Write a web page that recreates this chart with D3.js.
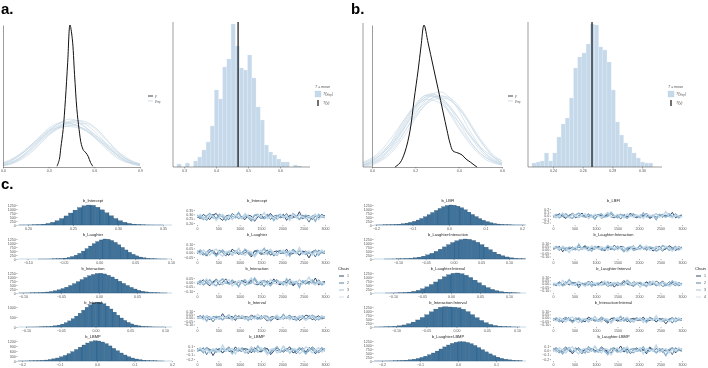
<!DOCTYPE html>
<html>
<head>
<meta charset="utf-8">
<script src="https://cdn.jsdelivr.net/npm/d3@7"></script>
<style>
  body { margin: 0; background: #fff; }
  svg { will-change: transform; }
  svg text { font-family: "Liberation Sans", Arial, sans-serif; }
</style>
</head>
<body>
<script>
// ---------- panel a : density overlay + stat histogram ----------
const densGridA = [0, 0.05, 0.1, 0.15, 0.2, 0.25, 0.3, 0.35, 0.4, 0.45, 0.5, 0.55, 0.6, 0.65, 0.7, 0.75, 0.8, 0.85, 0.9]
const yrepA = [
  [0.2,0.4,0.7,1.1,1.6,2.1,2.5,2.8,3.0,3.0,2.9,2.6,2.2,1.7,1.2,0.8,0.45,0.25,0.15],
  [0.1,0.25,0.5,0.9,1.4,1.9,2.4,2.8,3.1,3.2,3.0,2.6,2.0,1.5,1.0,0.6,0.35,0.2,0.1],
  [0.3,0.5,0.8,1.2,1.6,2.0,2.4,2.6,2.7,2.7,2.6,2.4,2.1,1.7,1.3,0.9,0.6,0.35,0.2],
  [0.15,0.3,0.55,0.95,1.4,1.9,2.4,2.7,2.9,2.9,2.7,2.4,2.0,1.6,1.2,0.8,0.5,0.3,0.15],
  [0.1,0.2,0.4,0.7,1.1,1.6,2.1,2.5,2.8,3.0,3.1,3.0,2.7,2.2,1.6,1.0,0.6,0.3,0.15],
  [0.25,0.45,0.75,1.1,1.5,1.9,2.3,2.6,2.8,2.8,2.7,2.5,2.2,1.8,1.4,1.0,0.6,0.35,0.2],
  [0.15,0.3,0.55,0.9,1.3,1.8,2.2,2.5,2.7,2.8,2.9,2.9,2.6,2.1,1.6,1.1,0.7,0.4,0.2],
  [0.2,0.4,0.7,1.1,1.6,2.1,2.6,2.9,3.0,2.9,2.7,2.4,2.0,1.6,1.1,0.7,0.4,0.25,0.1],
  [0.1,0.2,0.45,0.8,1.2,1.7,2.2,2.6,2.9,3.1,3.1,2.8,2.4,1.9,1.3,0.8,0.45,0.2,0.1]
]
const yObsA_x = [0.355,0.37,0.38,0.395,0.41,0.425,0.44,0.455,0.47,0.485,0.50,0.515,0.53,0.545,0.56,0.575,0.59]
const yObsA_d = [0.05,0.5,1.3,2.5,4.5,7.0,9.5,8.6,6.2,3.9,2.5,1.5,1.1,0.95,0.7,0.3,0.05]
const densTicksA = [0.0, 0.3, 0.6, 0.9]
const statA_start = 0.278, statA_width = 0.013
const statA_counts = [3,0,4,0,6,10,17,25,41,77,68,100,108,143,121,99,97,112,89,60,47,22,15,12,8,5,5,0,2,1]
const statA_Ty = 0.469
const statTicksA = [0.3, 0.4, 0.5, 0.6]

// ---------- panel b ----------
const densGridB = [-0.04, 0, 0.04, 0.08, 0.12, 0.16, 0.2, 0.24, 0.28, 0.32, 0.36, 0.4, 0.44, 0.48, 0.52, 0.56, 0.6]
const yrepB = [
  [0.1,0.25,0.5,0.9,1.5,2.2,2.9,3.4,3.6,3.4,2.9,2.2,1.5,0.9,0.5,0.25,0.1],
  [0.2,0.4,0.7,1.1,1.7,2.4,3.0,3.4,3.5,3.3,2.9,2.4,1.8,1.2,0.7,0.4,0.2],
  [0.05,0.15,0.35,0.7,1.2,1.9,2.6,3.2,3.6,3.7,3.4,2.8,2.0,1.3,0.7,0.35,0.15],
  [0.15,0.3,0.6,1.0,1.6,2.3,3.0,3.5,3.6,3.3,2.7,2.0,1.4,0.9,0.5,0.3,0.15],
  [0.1,0.2,0.4,0.8,1.3,1.9,2.5,3.0,3.3,3.4,3.3,2.9,2.3,1.6,1.0,0.5,0.2],
  [0.25,0.45,0.8,1.3,1.9,2.5,3.0,3.3,3.3,3.1,2.7,2.2,1.7,1.2,0.8,0.5,0.3],
  [0.05,0.1,0.3,0.6,1.1,1.7,2.4,3.0,3.4,3.5,3.3,2.9,2.3,1.6,1.0,0.5,0.2],
  [0.1,0.2,0.45,0.85,1.4,2.1,2.8,3.3,3.5,3.4,3.0,2.4,1.7,1.1,0.6,0.3,0.1],
  [0.2,0.35,0.6,1.0,1.5,2.1,2.7,3.1,3.4,3.5,3.4,3.0,2.4,1.7,1.1,0.6,0.3],
  [0.1,0.3,0.6,1.1,1.8,2.5,3.1,3.5,3.5,3.2,2.6,1.9,1.3,0.8,0.4,0.2,0.1]
]
const yObsB_x = [0.106,0.129,0.152,0.176,0.194,0.213,0.226,0.240,0.259,0.282,0.305,0.328,0.346,0.360,0.374,0.397,0.416,0.434,0.453,0.471,0.485]
const yObsB_d = [0,0.2,0.74,1.82,3.3,4.78,5.92,7.0,6.11,4.98,3.85,2.71,1.82,1.18,0.79,0.69,0.59,0.39,0.25,0.1,0]
const densTicksB = [0.0, 0.2, 0.4, 0.6]
const statB_start = 0.2258, statB_width = 0.00281
const statB_counts = [4,5,6,14,6,14,30,43,49,69,99,110,114,123,143,142,120,117,105,77,45,32,24,20,14,9,5,4,4,0]
const statB_Ty = 0.2663
const statTicksB = [0.24, 0.26, 0.28, 0.30]

// ---------- panel c : posterior histograms ----------
const paramsLeft = ["b_Intercept", "b_Laughter", "b_Interaction", "b_Interval", "b_LBMP"]
const paramsRight = ["b_LBFI", "b_Laughter:Interaction", "b_Laughter:Interval", "b_Interaction:Interval", "b_Laughter:LBMP"]

const postStartLeft = [0.180, -0.090, -0.120, -0.110, -0.240]
const postWidthLeft = [0.005, 0.005, 0.005, 0.005, 0.01]
const postCountsLeft = [
  [0,1,2,3,6,13,28,54,98,168,268,402,566,748,930,1090,1200,1248,1230,1110,945,760,575,405,268,170,100,56,30,14,6,3,1,1,0,0],
  [0,1,1,2,4,8,16,30,55,95,155,240,355,495,650,810,960,1090,1190,1250,1235,1160,1040,890,725,565,420,295,195,122,72,40,21,10,5,2,1,0],
  [0,1,1,2,3,5,9,15,25,40,62,95,140,200,275,365,470,585,710,840,970,1080,1160,1220,1235,1190,1110,1000,870,735,600,470,350,250,170,110,68,40,22,12,6,3],
  [0,0,1,1,2,4,7,13,22,37,60,95,145,215,305,415,545,690,840,985,1110,1200,1245,1230,1160,1045,900,745,590,450,330,230,152,97,58,33,18,9,4,2,1,1,0,0],
  [0,1,1,2,3,5,9,15,24,38,58,88,128,180,250,335,440,560,690,830,960,1080,1170,1215,1200,1140,1040,905,760,615,480,360,260,180,120,76,46,27,15,8,4,2]
]
const postStartRight = [-0.230, -0.125, -0.1125, -0.1425, -0.220]
const postWidthRight = [0.01, 0.0075, 0.0075, 0.0075, 0.01]
const postCountsRight = [
  [1,1,2,3,5,9,14,22,35,54,80,118,166,230,310,408,520,645,778,912,1035,1143,1218,1250,1234,1175,1078,950,805,660,526,402,295,209,143,94,60,36,21,12,6,3,2,1],
  [1,2,4,8,15,27,46,75,118,178,258,358,478,612,755,898,1030,1140,1215,1250,1230,1160,1045,900,740,580,432,305,204,128,75,41,21,10],
  [1,3,7,15,30,58,102,168,262,385,530,690,855,1010,1140,1230,1250,1205,1110,970,805,635,475,338,228,146,88,50,27,13,6],
  [1,2,5,11,22,42,76,128,205,308,440,595,765,950,1120,1230,1265,1250,1235,1200,1110,960,770,580,410,270,165,95,50,25,12,5,2],
  [1,1,2,4,7,12,20,32,50,76,112,160,222,300,393,500,620,750,880,1000,1100,1170,1205,1200,1160,1080,970,840,705,570,445,335,242,168,112,72,44,26,15,8,4,2]
]
const postXTicksLeft = [[0.20,0.25,0.30,0.35],[-0.10,-0.05,0.00,0.05,0.10],[-0.10,-0.05,0.00,0.05],[-0.10,-0.05,0.00,0.05,0.10],[-0.2,-0.1,0.0,0.1,0.2]]
const postXTicksRight = [[-0.2,-0.1,0.0,0.1,0.2],[-0.10,-0.05,0.00,0.05,0.10],[-0.10,-0.05,0.00,0.05,0.10],[-0.10,-0.05,0.00,0.05,0.10],[-0.2,-0.1,0.0,0.1]]
const postYTicksLeft = [[0,250,500,750,1000,1250],[0,250,500,750,1000,1250],[0,250,500,750,1000,1250],[0,500,1000],[0,300,600,900,1200]]
const postYTicksRight = [[0,250,500,750,1000,1250],[0,250,500,750,1000,1250],[0,250,500,750,1000,1250],[0,250,500,750,1000,1250],[0,250,500,750,1000,1250]]

// ---------- panel c : trace plots (every 75th draw, 4 chains) ----------
const chainIds = ["1", "2", "3", "4"]
const traceIter = d3.range(0, 3001, 75)
const traceTicksX = [0, 500, 1000, 1500, 2000, 2500, 3000]
const traceYTicksLeft = [[0.20,0.25,0.30,0.35],[-0.05,0.00,0.05,0.10],[-0.10,-0.05,0.00,0.05],[-0.10,-0.05,0.00,0.05,0.10],[-0.2,-0.1,0.0,0.1]]
const traceYTicksRight = [[-0.2,-0.1,0.0,0.1,0.2],[-0.10,-0.05,0.00,0.05,0.10],[-0.10,-0.05,0.00,0.05,0.10],[-0.10,-0.05,0.00,0.05,0.10],[-0.2,-0.1,0.0,0.1]]

const traceLeft = [
  [ // b_Intercept
    [0.28,0.25,0.30,0.27,0.24,0.29,0.31,0.26,0.23,0.28,0.29,0.25,0.27,0.32,0.26,0.24,0.29,0.28,0.22,0.27,0.30,0.25,0.28,0.31,0.26,0.25,0.27,0.30,0.23,0.29,0.28,0.26,0.33,0.25,0.27,0.29,0.24,0.28,0.26,0.30,0.27],
    [0.26,0.29,0.27,0.23,0.28,0.30,0.25,0.27,0.29,0.26,0.24,0.31,0.28,0.25,0.27,0.30,0.26,0.22,0.29,0.28,0.25,0.27,0.30,0.24,0.28,0.29,0.26,0.27,0.31,0.25,0.26,0.28,0.24,0.29,0.27,0.21,0.28,0.30,0.26,0.27,0.29],
    [0.29,0.27,0.24,0.28,0.31,0.26,0.25,0.30,0.27,0.23,0.29,0.28,0.26,0.32,0.25,0.27,0.28,0.24,0.29,0.30,0.26,0.25,0.27,0.29,0.23,0.28,0.30,0.26,0.27,0.25,0.31,0.28,0.24,0.27,0.29,0.26,0.28,0.22,0.30,0.27,0.26],
    [0.27,0.30,0.26,0.25,0.29,0.28,0.23,0.27,0.30,0.26,0.28,0.24,0.29,0.27,0.25,0.31,0.28,0.26,0.24,0.29,0.27,0.32,0.25,0.28,0.26,0.24,0.29,0.27,0.28,0.23,0.30,0.26,0.29,0.27,0.25,0.28,0.26,0.30,0.24,0.28,0.27]
  ],
  [ // b_Laughter
    [-0.01,0.02,0,-0.04,0.01,0.03,-0.02,0,0.02,-0.01,-0.03,0.04,0.01,-0.02,0,0.03,-0.01,-0.05,0.02,0.01,-0.02,0,0.03,-0.03,0.01,0.02,-0.01,0,0.04,-0.02,-0.01,0.01,-0.03,0.02,0,-0.06,0.01,0.03,-0.01,0,0.02],
    [0.02,0,-0.03,0.01,0.04,-0.01,-0.02,0.03,0,-0.04,0.02,0.01,-0.01,0.05,-0.02,0,0.01,-0.03,0.02,0.03,-0.01,-0.02,0,0.02,-0.04,0.01,0.03,-0.01,0,-0.02,0.04,0.01,-0.03,0,0.02,-0.01,0.01,-0.05,0.03,0,-0.01],
    [0,0.03,-0.01,-0.02,0.02,0.01,-0.04,0,0.03,-0.01,0.01,-0.03,0.02,0,-0.02,0.04,0.01,-0.01,-0.03,0.02,0,0.05,-0.02,0.01,-0.01,-0.03,0.02,0,0.01,-0.04,0.03,-0.01,0.02,0,-0.02,0.01,-0.01,0.03,-0.03,0.01,0],
    [0.01,-0.02,0.03,0,-0.03,0.02,0.04,-0.01,-0.04,0.01,0.02,-0.02,0,0.05,-0.01,-0.03,0.02,0.01,-0.05,0,0.03,-0.02,0.01,0.04,-0.01,-0.02,0,0.03,-0.04,0.02,0.01,-0.01,0.06,-0.02,0,0.02,-0.03,0.01,-0.01,0.03,0]
  ],
  [ // b_Interaction
    [-0.02,0,0.03,-0.01,-0.04,0.01,0.02,-0.03,0,0.04,-0.02,-0.01,0.01,-0.05,0.02,0,-0.01,0.03,-0.02,-0.03,0.01,0.02,0,-0.02,0.04,-0.01,-0.03,0.01,0,0.02,-0.04,-0.01,0.03,0,-0.02,0.01,-0.01,0.05,-0.03,0,0.01],
    [0,-0.03,0.01,0.02,-0.02,-0.01,0.04,0,-0.03,0.01,-0.01,0.03,-0.02,0,0.02,-0.04,-0.01,0.01,0.03,-0.02,0,-0.05,0.02,-0.01,0.01,0.03,-0.02,0,-0.01,0.04,-0.03,0.01,-0.02,0,0.02,-0.01,0.01,-0.03,0.03,-0.01,0],
    [-0.01,0.02,-0.03,0,0.03,-0.02,-0.04,0.01,0.04,-0.01,-0.02,0.02,0,-0.05,0.01,0.03,-0.02,-0.01,0.05,0,-0.03,0.02,-0.01,-0.04,0.01,0.02,0,-0.03,0.04,-0.02,-0.01,0.01,-0.06,0.02,0,-0.02,0.03,-0.01,0.01,-0.03,0],
    [0.01,-0.02,0,0.04,-0.01,-0.03,0.02,0,-0.02,0.01,0.03,-0.04,-0.01,0.02,0,-0.03,0.01,0.05,-0.02,-0.01,0.02,0,-0.03,0.03,-0.01,-0.02,0.01,0,-0.04,0.02,0.01,-0.01,0.03,-0.02,0,0.06,-0.01,-0.03,0.01,0,-0.02]
  ],
  [ // b_Interval
    [0,0.03,-0.01,0.01,-0.03,0.02,0,-0.02,0.06,-0.01,0.01,0.02,-0.04,0.03,0,-0.02,-0.01,0.04,0.01,-0.02,0.03,0,-0.05,0.01,0.02,-0.03,-0.01,0.05,0,-0.02,0.02,0.01,-0.04,-0.01,0.04,0.02,-0.03,0,0.03,-0.02,0.01],
    [0.02,0,-0.01,0.03,0.01,-0.06,0,0.02,-0.03,0.01,-0.01,-0.02,0.04,0,-0.01,0.02,0.01,-0.03,0.03,0,-0.02,0.01,0.02,-0.05,-0.01,0.03,0,-0.02,0.01,0.04,-0.03,-0.01,0.02,0,-0.02,0.03,0.01,-0.04,0,0.02,-0.01],
    [-0.01,0,0.03,-0.05,0.01,-0.01,0.02,0,-0.03,0.01,0.04,-0.02,0,-0.01,0.03,0.01,-0.04,0.02,0,-0.02,-0.01,0.03,0.02,-0.03,0.01,0,-0.02,0.05,-0.01,0.01,0.02,-0.04,0,0.03,-0.02,-0.01,0.04,0.01,-0.03,0,0.02],
    [0,0.01,-0.03,0.03,-0.01,0.01,-0.02,0,0.02,-0.01,0.03,-0.04,0.01,0,0.02,-0.03,-0.01,0.01,-0.02,0.05,0,0.02,-0.03,-0.01,0.01,0.04,-0.02,0,0.02,-0.03,0.01,-0.01,0.03,0,-0.04,0.01,0.02,-0.02,-0.01,0.03,0]
  ],
  [ // b_LBMP
    [0.04,0,-0.02,0.06,0.02,-0.12,0,0.04,-0.06,0.02,-0.02,-0.04,0.08,0,-0.02,0.04,0.02,-0.06,0.06,0,-0.04,0.02,0.04,-0.1,-0.02,0.06,0,-0.04,0.02,0.08,-0.06,-0.02,0.04,0,-0.04,0.06,0.02,-0.08,0,0.04,-0.02],
    [-0.02,0,0.06,-0.1,0.02,-0.02,0.04,0,-0.06,0.02,0.08,-0.04,0,-0.02,0.06,0.02,-0.08,0.04,0,-0.04,-0.02,0.06,0.04,-0.06,0.02,0,-0.04,0.1,-0.02,0.02,0.04,-0.08,0,0.06,-0.04,-0.02,0.08,0.02,-0.06,0,0.04],
    [0,0.02,-0.06,0.06,-0.02,0.02,-0.04,0,0.04,-0.02,0.06,-0.08,0.02,0,0.04,-0.06,-0.02,0.02,-0.04,0.1,0,0.04,-0.06,-0.02,0.02,0.08,-0.04,0,0.04,-0.06,0.02,-0.02,0.06,0,-0.08,0.02,0.04,-0.04,-0.02,0.06,0],
    [0,0.06,-0.02,0.02,-0.06,0.04,0,-0.04,0.12,-0.02,0.02,0.04,-0.08,0.06,0,-0.04,-0.02,0.08,0.02,-0.04,0.06,0,-0.1,0.02,0.04,-0.06,-0.02,0.1,0,-0.04,0.04,0.02,-0.08,-0.02,0.08,0.04,-0.06,0,0.06,-0.04,0.02]
  ]
]
const traceRight = [
  [ // b_LBFI
    [-0.04,0,0.06,-0.02,-0.08,0.02,0.04,-0.06,0,0.08,-0.04,-0.02,0.02,-0.1,0.04,0,-0.02,0.06,-0.04,-0.06,0.02,0.04,0,-0.04,0.08,-0.02,-0.06,0.02,0,0.04,-0.08,-0.02,0.06,0,-0.04,0.02,-0.02,0.1,-0.06,0,0.02],
    [0,-0.06,0.02,0.04,-0.04,-0.02,0.08,0,-0.06,0.02,-0.02,0.06,-0.04,0,0.04,-0.08,-0.02,0.02,0.06,-0.04,0,-0.1,0.04,-0.02,0.02,0.06,-0.04,0,-0.02,0.08,-0.06,0.02,-0.04,0,0.04,-0.02,0.02,-0.06,0.06,-0.02,0],
    [-0.02,0.04,-0.06,0,0.06,-0.04,-0.08,0.02,0.08,-0.02,-0.04,0.04,0,-0.1,0.02,0.06,-0.04,-0.02,0.1,0,-0.06,0.04,-0.02,-0.08,0.02,0.04,0,-0.06,0.08,-0.04,-0.02,0.02,-0.12,0.04,0,-0.04,0.06,-0.02,0.02,-0.06,0],
    [0.02,-0.04,0,0.08,-0.02,-0.06,0.04,0,-0.04,0.02,0.06,-0.08,-0.02,0.04,0,-0.06,0.02,0.1,-0.04,-0.02,0.04,0,-0.06,0.06,-0.02,-0.04,0.02,0,-0.08,0.04,0.02,-0.02,0.06,-0.04,0,0.12,-0.02,-0.06,0.02,0,-0.04]
  ],
  [ // b_Laughter:Interaction
    [0.01,0.02,0.05,-0.03,0.03,0.01,0.04,0.02,-0.01,0.03,0.06,0,0.02,0.01,0.05,0.03,-0.02,0.04,0.02,0,0.01,0.05,0.04,-0.01,0.03,0.02,0,0.07,0.01,0.03,0.04,-0.02,0.02,0.05,0,0.01,0.06,0.03,-0.01,0.02,0.04],
    [0.02,0.03,-0.01,0.05,0.01,0.03,0,0.02,0.04,0.01,0.05,-0.02,0.03,0.02,0.04,-0.01,0.01,0.03,0,0.07,0.02,0.04,-0.01,0.01,0.03,0.06,0,0.02,0.04,-0.01,0.03,0.01,0.05,0.02,-0.02,0.03,0.04,0,0.01,0.05,0.02],
    [0.02,0.05,0.01,0.03,-0.01,0.04,0.02,0,0.08,0.01,0.03,0.04,-0.02,0.05,0.02,0,0.01,0.06,0.03,0,0.05,0.02,-0.03,0.03,0.04,-0.01,0.01,0.07,0.02,0,0.04,0.03,-0.02,0.01,0.06,0.04,-0.01,0.02,0.05,0,0.03],
    [0.04,0.02,0.01,0.05,0.03,-0.04,0.02,0.04,-0.01,0.03,0.01,0,0.06,0.02,0.01,0.04,0.03,-0.01,0.05,0.02,0,0.03,0.04,-0.03,0.01,0.05,0.02,0,0.03,0.06,-0.01,0.01,0.04,0.02,0,0.05,0.03,-0.02,0.02,0.04,0.01]
  ],
  [ // b_Laughter:Interval
    [0,-0.01,0.03,-0.03,0.01,-0.01,0.02,0,-0.02,0.01,-0.03,0.04,-0.01,0,-0.02,0.03,0.01,-0.01,0.02,-0.05,0,-0.02,0.03,0.01,-0.01,-0.04,0.02,0,-0.02,0.03,-0.01,0.01,-0.03,0,0.04,-0.01,-0.02,0.02,0.01,-0.03,0],
    [0,-0.03,0.01,-0.01,0.03,-0.02,0,0.02,-0.06,0.01,-0.01,-0.02,0.04,-0.03,0,0.02,0.01,-0.04,-0.01,0.02,-0.03,0,0.05,-0.01,-0.02,0.03,0.01,-0.05,0,0.02,-0.02,-0.01,0.04,0.01,-0.04,-0.02,0.03,0,-0.03,0.02,-0.01],
    [-0.02,0,0.01,-0.03,-0.01,0.06,0,-0.02,0.03,-0.01,0.01,0.02,-0.04,0,0.01,-0.02,-0.01,0.03,-0.03,0,0.02,-0.01,-0.02,0.05,0.01,-0.03,0,0.02,-0.01,-0.04,0.03,0.01,-0.02,0,0.02,-0.03,-0.01,0.04,0,-0.02,0.01],
    [0.01,0,-0.03,0.05,-0.01,0.01,-0.02,0,0.03,-0.01,-0.04,0.02,0,0.01,-0.03,-0.01,0.04,-0.02,0,0.02,0.01,-0.03,-0.02,0.03,-0.01,0,0.02,-0.05,0.01,-0.01,-0.02,0.04,0,-0.03,0.02,0.01,-0.04,-0.01,0.03,0,-0.02]
  ],
  [ // b_Interaction:Interval
    [-0.04,-0.01,-0.03,-0.07,-0.02,0,-0.05,-0.03,-0.01,-0.04,-0.06,0.01,-0.02,-0.05,-0.03,0,-0.04,-0.08,-0.01,-0.02,-0.05,-0.03,0,-0.06,-0.02,-0.01,-0.04,-0.03,0.01,-0.05,-0.04,-0.02,-0.06,-0.01,-0.03,-0.09,-0.02,0,-0.04,-0.03,-0.01],
    [-0.01,-0.03,-0.06,-0.02,0.01,-0.04,-0.05,0,-0.03,-0.07,-0.01,-0.02,-0.04,0.02,-0.05,-0.03,-0.02,-0.06,-0.01,0,-0.04,-0.05,-0.03,-0.01,-0.07,-0.02,0,-0.04,-0.03,-0.05,0.01,-0.02,-0.06,-0.03,-0.01,-0.04,-0.02,-0.08,0,-0.03,-0.04],
    [-0.03,0,-0.04,-0.05,-0.01,-0.02,-0.07,-0.03,0,-0.04,-0.02,-0.06,-0.01,-0.03,-0.05,0.01,-0.02,-0.04,-0.06,-0.01,-0.03,0.02,-0.05,-0.02,-0.04,-0.06,-0.01,-0.03,-0.02,-0.07,0,-0.04,-0.01,-0.03,-0.05,-0.02,-0.04,0,-0.06,-0.02,-0.03],
    [-0.02,-0.05,0,-0.03,-0.06,-0.01,0.01,-0.04,-0.07,-0.02,-0.01,-0.05,-0.03,0.02,-0.04,-0.06,-0.01,-0.02,-0.08,-0.03,0,-0.05,-0.02,0.01,-0.04,-0.05,-0.03,0,-0.07,-0.01,-0.02,-0.04,0.03,-0.05,-0.03,-0.01,-0.06,-0.02,-0.04,0,-0.03]
  ],
  [ // b_Laughter:LBMP
    [0,0.06,-0.02,-0.04,0.04,0.02,-0.08,0,0.06,-0.02,0.02,-0.06,0.04,0,-0.04,0.08,0.02,-0.02,-0.06,0.04,0,0.1,-0.04,0.02,-0.02,-0.06,0.04,0,0.02,-0.08,0.06,-0.02,0.04,0,-0.04,0.02,-0.02,0.06,-0.06,0.02,0],
    [0.04,0,-0.06,0.02,0.08,-0.02,-0.04,0.06,0,-0.08,0.04,0.02,-0.02,0.1,-0.04,0,0.02,-0.06,0.04,0.06,-0.02,-0.04,0,0.04,-0.08,0.02,0.06,-0.02,0,-0.04,0.08,0.02,-0.06,0,0.04,-0.02,0.02,-0.1,0.06,0,-0.02],
    [-0.02,0.04,0,-0.08,0.02,0.06,-0.04,0,0.04,-0.02,-0.06,0.08,0.02,-0.04,0,0.06,-0.02,-0.1,0.04,0.02,-0.04,0,0.06,-0.06,0.02,0.04,-0.02,0,0.08,-0.04,-0.02,0.02,-0.06,0.04,0,-0.12,0.02,0.06,-0.02,0,0.04],
    [0.02,-0.04,0.06,0,-0.06,0.04,0.08,-0.02,-0.08,0.02,0.04,-0.04,0,0.1,-0.02,-0.06,0.04,0.02,-0.1,0,0.06,-0.04,0.02,0.08,-0.02,-0.04,0,0.06,-0.08,0.04,0.02,-0.02,0.12,-0.04,0,0.04,-0.06,0.02,-0.02,0.06,0]
  ]
]

// ---------- layout & styles ----------
const svgWidth = 708, svgHeight = 368
const axisCol = "#3a3a3a", textCol = "#555555"
const chainColors = ["#011f4b", "#2f5f85", "#8db4cf", "#c3d9e9"]
const chainWidths = [0.8, 0.8, 1.4, 1.4]
const rowZero = [225, 259, 293, 327, 361]
const cols = [
  { names: paramsLeft, start: postStartLeft, width: postWidthLeft, counts: postCountsLeft,
    xTicks: postXTicksLeft, yTicks: postYTicksLeft, traces: traceLeft, tYTicks: traceYTicksLeft,
    hx: [18, 172], tx: [197, 325], legX: 338,
    hDom: [[0.1889,0.36],[-0.1135,0.1014],[-0.1066,0.096],[-0.1115,0.11],[-0.2107,0.2]],
    tDom: [[0.1885,0.3846],[-0.0615,0.1346],[-0.1115,0.0846],[-0.122,0.1296],[-0.223,0.169]] },
  { names: paramsRight, start: postStartRight, width: postWidthRight, counts: postCountsRight,
    xTicks: postXTicksRight, yTicks: postYTicksRight, traces: traceRight, tYTicks: traceYTicksRight,
    hx: [374, 526], tx: [553, 682], legX: 695,
    hDom: [[-0.2055,0.211],[-0.1432,0.1306],[-0.1328,0.1293],[-0.1364,0.1149],[-0.221,0.179]],
    tDom: [[-0.2444,0.259],[-0.122,0.1296],[-0.122,0.1296],[-0.122,0.1296],[-0.223,0.169]] }
]

const svg = d3.select("body").append("svg")
  .attr("width", svgWidth)
  .attr("height", svgHeight)

function styleAxis(g, fs) {
  g.attr("font-size", fs).attr("font-family", null)
  g.select(".domain").attr("stroke", axisCol).attr("stroke-width", 0.5)
  g.selectAll(".tick line").attr("stroke", axisCol).attr("stroke-width", 0.4)
  g.selectAll(".tick text").attr("fill", textCol)
}

function fmtFor(ticks) {
  const step = Math.abs(ticks[1] - ticks[0])
  return step >= 0.1 - 1e-9 ? d3.format(".1f") : d3.format(".2f")
}

// panel letters
svg.append("text").attr("x", 1).attr("y", 14).text("a.")
  .attr("font-family", "Liberation Serif").attr("font-weight", "bold").attr("font-size", 15)
svg.append("text").attr("x", 351).attr("y", 14).text("b.")
  .attr("font-family", "Liberation Serif").attr("font-weight", "bold").attr("font-size", 15)
svg.append("text").attr("x", 1).attr("y", 189).text("c.")
  .attr("font-family", "Liberation Serif").attr("font-weight", "bold").attr("font-size", 15)

// ---------- density overlay ----------
function densityPanel(o) {
  const x = d3.scaleLinear().domain(o.xDom).range(o.xRange)
  const y = d3.scaleLinear().domain([0, o.yMax]).range([167, 25])
  const g = svg.append("g")
  const line = d3.line().x(d => x(d[0])).y(d => y(d[1])).curve(d3.curveCatmullRom)

  o.yrep.forEach(curve => {
    g.append("path").datum(curve.map((v, i) => [o.grid[i], v]))
      .attr("d", line).attr("fill", "none")
      .attr("stroke", "#c3d5e3").attr("stroke-width", 0.6)
  })
  g.append("path").datum(o.obsX.map((v, i) => [v, o.obsD[i]]))
    .attr("d", line).attr("fill", "none")
    .attr("stroke", "#111").attr("stroke-width", 1)

  const xa = svg.append("g").attr("transform", "translate(0,167)")
    .call(d3.axisBottom(x).tickValues(o.ticks).tickFormat(d3.format(".1f"))
      .tickSize(1.5).tickPadding(1).tickSizeOuter(0))
  styleAxis(xa, 3.6)
  const ya = svg.append("g").attr("transform", `translate(${o.xRange[0]},0)`)
    .call(d3.axisLeft(y).tickValues([]).tickSizeOuter(0))
  styleAxis(ya, 3.6)

  // legend
  const lg = svg.append("g").attr("transform", `translate(${o.legX},96)`)
  lg.append("line").attr("x1", 0).attr("x2", 5).attr("y1", 0).attr("y2", 0)
    .attr("stroke", "#111").attr("stroke-width", 0.8)
  lg.append("text").attr("x", 7).attr("y", 1.2).attr("font-size", 3.6).attr("font-style", "italic")
    .attr("fill", textCol).text("y")
  lg.append("line").attr("x1", 0).attr("x2", 5).attr("y1", 5).attr("y2", 5)
    .attr("stroke", "#c3d5e3").attr("stroke-width", 0.8)
  const t = lg.append("text").attr("x", 7).attr("y", 6.2).attr("font-size", 3.6)
    .attr("font-style", "italic").attr("fill", textCol)
  t.append("tspan").text("y")
  t.append("tspan").attr("font-size", 2.6).attr("dy", 0.8).text("rep")
}

densityPanel({ xDom: [0, 0.9], xRange: [3, 140], yMax: 9.5, grid: densGridA, yrep: yrepA,
  obsX: yObsA_x, obsD: yObsA_d, ticks: densTicksA, legX: 148 })
densityPanel({ xDom: [0, 0.6], xRange: [372, 502], yMax: 7.0, grid: densGridB, yrep: yrepB,
  obsX: yObsB_x, obsD: yObsB_d, ticks: densTicksB, legX: 508 })
// left axis of density b starts a little before 0.0
svg.append("line").attr("x1", 363).attr("x2", 363).attr("y1", 23).attr("y2", 167)
  .attr("stroke", axisCol).attr("stroke-width", 0.5)
svg.append("line").attr("x1", 363).attr("x2", 372).attr("y1", 167).attr("y2", 167)
  .attr("stroke", axisCol).attr("stroke-width", 0.5)

// ---------- test statistic histogram ----------
function statPanel(o) {
  const x = d3.scaleLinear().domain(o.tickDom).range(o.tickPx)
  const y = d3.scaleLinear().domain([0, d3.max(o.counts)]).range([167, 24])
  const g = svg.append("g")
  g.selectAll("rect").data(o.counts).enter().append("rect")
    .attr("x", (d, i) => x(o.start + i * o.width))
    .attr("width", (d, i) => x(o.start + (i + 1) * o.width) - x(o.start + i * o.width))
    .attr("y", d => y(d))
    .attr("height", d => 167 - y(d))
    .attr("fill", "#c5d9ea").attr("stroke", "#e2ecf4").attr("stroke-width", 0.3)
  g.append("line").attr("x1", x(o.Ty)).attr("x2", x(o.Ty)).attr("y1", 167).attr("y2", 22)
    .attr("stroke", "#111").attr("stroke-width", 1.2)

  const xa = svg.append("g").attr("transform", "translate(0,167)")
    .call(d3.axisBottom(x).tickValues(o.ticks).tickFormat(o.fmt)
      .tickSize(1.5).tickPadding(1).tickSizeOuter(0))
  xa.select(".domain").remove()
  styleAxis(xa, 3.6)
  svg.append("line").attr("x1", o.axisX).attr("x2", o.axisEnd).attr("y1", 167).attr("y2", 167)
    .attr("stroke", axisCol).attr("stroke-width", 0.5)
  svg.append("line").attr("x1", o.axisX).attr("x2", o.axisX).attr("y1", 22).attr("y2", 167)
    .attr("stroke", axisCol).attr("stroke-width", 0.5)

  const lg = svg.append("g").attr("transform", `translate(${o.legX},0)`)
  const t0 = lg.append("text").attr("x", 0).attr("y", 88).attr("font-size", 3.6).attr("fill", textCol)
  t0.append("tspan").attr("font-style", "italic").text("T")
  t0.append("tspan").text(" = mean")
  lg.append("rect").attr("x", 0).attr("y", 91).attr("width", 6).attr("height", 6)
    .attr("fill", "#c5d9ea").attr("stroke", "#b3cde0").attr("stroke-width", 0.3)
  const t1 = lg.append("text").attr("x", 8).attr("y", 95.3).attr("font-size", 3.6).attr("fill", textCol)
  t1.append("tspan").attr("font-style", "italic").text("T(y")
  t1.append("tspan").attr("font-size", 2.6).attr("dy", 0.7).attr("font-style", "italic").text("rep")
  t1.append("tspan").attr("dy", -0.7).text(")")
  lg.append("rect").attr("x", 2.4).attr("y", 100).attr("width", 1.2).attr("height", 6).attr("fill", "#111")
  const t2 = lg.append("text").attr("x", 8).attr("y", 104.3).attr("font-size", 3.6).attr("fill", textCol)
  t2.append("tspan").attr("font-style", "italic").text("T(y)")
}

statPanel({ tickDom: [0.3, 0.6], tickPx: [184, 280], counts: statA_counts, start: statA_start,
  width: statA_width, Ty: statA_Ty, ticks: statTicksA, fmt: d3.format(".1f"),
  axisX: 173, axisEnd: 310, legX: 315 })
statPanel({ tickDom: [0.24, 0.30], tickPx: [553, 642], counts: statB_counts, start: statB_start,
  width: statB_width, Ty: statB_Ty, ticks: statTicksB, fmt: d3.format(".2f"),
  axisX: 528, axisEnd: 662, legX: 668 })

// ---------- panel c ----------
cols.forEach(c => {
  rowZero.forEach((z, r) => {
    // posterior histogram
    const x = d3.scaleLinear().domain(c.hDom[r]).range(c.hx)
    const yTop = c.yTicks[r][c.yTicks[r].length - 1]
    const y = d3.scaleLinear().domain([0, yTop]).range([z, z - 20])
    const bins = c.counts[r].map((n, i) => ({
      x0: c.start[r] + i * c.width[r], x1: c.start[r] + (i + 1) * c.width[r], n: n
    })).filter(b => b.x0 >= c.hDom[r][0] - 1e-9 && b.x1 <= c.hDom[r][1] + 1e-9)

    svg.append("line").attr("x1", c.hx[0]).attr("x2", c.hx[1]).attr("y1", z).attr("y2", z)
      .attr("stroke", "#9fc0d6").attr("stroke-width", 0.6)
    svg.append("g").selectAll("rect").data(bins).enter().append("rect")
      .attr("x", d => x(d.x0)).attr("width", d => x(d.x1) - x(d.x0))
      .attr("y", d => y(d.n)).attr("height", d => z - y(d.n))
      .attr("fill", "#3f739b").attr("stroke", "#1d4566").attr("stroke-width", 0.25)

    const hxa = svg.append("g").attr("transform", `translate(0,${z})`)
      .call(d3.axisBottom(x).tickValues(c.xTicks[r]).tickFormat(fmtFor(c.xTicks[r]))
        .tickSize(1.2).tickPadding(0.8).tickSizeOuter(0))
    hxa.select(".domain").remove()
    styleAxis(hxa, 3.6)
    const hya = svg.append("g").attr("transform", `translate(${c.hx[0] - 0.5},0)`)
      .call(d3.axisLeft(y).tickValues(c.yTicks[r]).tickFormat(d3.format("d"))
        .tickSize(1.2).tickPadding(0.6).tickSizeOuter(0))
    hya.select(".domain").remove()
    styleAxis(hya, 3.6)
    svg.append("text").attr("x", (c.hx[0] + c.hx[1]) / 2 - 2).attr("y", z - 23)
      .attr("text-anchor", "middle").attr("font-size", 4).attr("fill", "#1a1a1a")
      .text(c.names[r])

    // trace plot
    const tx = d3.scaleLinear().domain([0, 3000]).range(c.tx)
    const ty = d3.scaleLinear().domain(c.tDom[r]).range([z - 1, z - 18])
    const tline = d3.line().x((d, i) => tx(traceIter[i])).y(d => ty(d))
    const tg = svg.append("g")
    c.traces[r].forEach((chain, k) => {
      tg.append("path").datum(chain).attr("d", tline).attr("fill", "none")
        .attr("stroke", chainColors[k]).attr("stroke-width", chainWidths[k])
        .attr("stroke-linejoin", "miter")
    })
    const txa = svg.append("g").attr("transform", `translate(0,${z})`)
      .call(d3.axisBottom(tx).tickValues(traceTicksX).tickFormat(d3.format("d"))
        .tickSize(1.2).tickPadding(0.8).tickSizeOuter(0))
    txa.select(".domain").remove()
    styleAxis(txa, 3.6)
    const tya = svg.append("g").attr("transform", `translate(${c.tx[0] - 2},0)`)
      .call(d3.axisLeft(ty).tickValues(c.tYTicks[r]).tickFormat(fmtFor(c.tYTicks[r]))
        .tickSize(1.2).tickPadding(0.6).tickSizeOuter(0))
    tya.select(".domain").remove()
    styleAxis(tya, 3.6)
    svg.append("text").attr("x", (c.tx[0] + c.tx[1]) / 2 - 4).attr("y", z - 23)
      .attr("text-anchor", "middle").attr("font-size", 4).attr("fill", "#1a1a1a")
      .text(c.names[r])
  })

  // chain legend
  const lg = svg.append("g").attr("transform", `translate(${c.legX},0)`)
  lg.append("text").attr("x", 0).attr("y", 270).attr("font-size", 4.2).attr("fill", "#1a1a1a").text("Chain")
  chainIds.forEach((id, k) => {
    const yy = 276 + k * 7
    lg.append("line").attr("x1", 1).attr("x2", 6).attr("y1", yy).attr("y2", yy)
      .attr("stroke", chainColors[k]).attr("stroke-width", 0.8)
    lg.append("text").attr("x", 9).attr("y", yy + 1.3).attr("font-size", 3.6).attr("fill", textCol).text(id)
  })
})
</script>
</body>
</html>
